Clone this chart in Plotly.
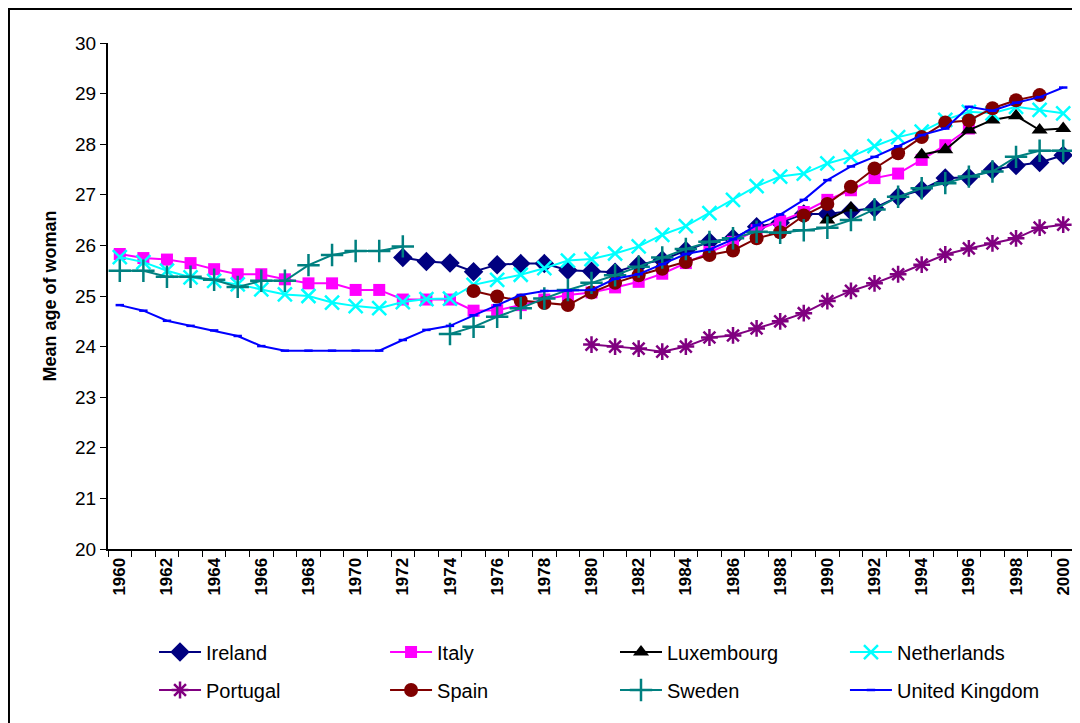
import plotly.graph_objects as go

years = list(range(1960, 2001))

ireland = [None] * 12 + [25.76, 25.68, 25.65, 25.48, 25.62, 25.64, 25.64, 25.51, 25.49, 25.47,
                         25.62, 25.71, 25.9, 26.07, 26.14, 26.37, 26.45, 26.62, 26.62, 26.68,
                         26.74, 26.96, 27.1, 27.33, 27.34, 27.49, 27.58, 27.64, 27.78]
italy = [25.83, 25.75, 25.72, 25.65, 25.53, 25.43, 25.43, 25.33, 25.25, 25.25,
         25.12, 25.12, 24.93, 24.93, 24.93, 24.71, 24.72, 24.82, 24.93, 25.02,
         25.07, 25.17, 25.28, 25.44, 25.65, 25.87, 26.07, 26.3, 26.48, 26.66,
         26.9, 27.09, 27.33, 27.42, 27.69, 27.98, 28.31] + [None] * 4
luxembourg = [None] * 30 + [26.5, 26.74, None, None, 27.79, 27.89, 28.28, 28.48, 28.56, 28.28, 28.31]
netherlands = [25.77, 25.67, 25.5, 25.37, 25.3, 25.23, 25.13, 25.03, 25.0, 24.87,
               24.8, 24.76, 24.88, 24.94, 24.95, 25.22, 25.32, 25.42, 25.55, 25.7,
               25.73, 25.84, 25.98, 26.21, 26.38, 26.64, 26.9, 27.17, 27.36, 27.42,
               27.62, 27.75, 27.96, 28.14, 28.25, 28.48, 28.64, 28.61, 28.74, 28.68, 28.61]
portugal = [None] * 20 + [24.04, 24.0, 23.96, 23.9, 24.0, 24.18, 24.22, 24.36, 24.5, 24.66,
                          24.9, 25.1, 25.25, 25.43, 25.62, 25.82, 25.94, 26.04, 26.14, 26.35, 26.41]
spain = [None] * 15 + [25.1, 24.99, 24.91, 24.86, 24.82, 25.07, 25.26, 25.41, 25.54, 25.67,
                       25.81, 25.9, 26.14, 26.26, 26.59, 26.82, 27.16, 27.52, 27.82, 28.14,
                       28.43, 28.47, 28.71, 28.87, 28.97] + [None]
sweden = [25.5, 25.5, 25.38, 25.38, 25.32, 25.18, 25.3, 25.3, 25.61, 25.81,
          25.89, 25.89, 25.98, None, 24.25, 24.39, 24.59, 24.76, 24.95, 25.12,
          25.26, 25.41, 25.58, 25.76, 25.93, 26.07, 26.14, 26.27, 26.25, 26.3,
          26.35, 26.5, 26.71, 26.96, 27.13, 27.23, 27.36, 27.46, 27.75, 27.87, 27.87]
uk = [24.82, 24.71, 24.51, 24.41, 24.32, 24.21, 24.01, 23.92, 23.92, 23.92,
      23.92, 23.92, 24.13, 24.33, 24.41, 24.62, 24.82, 25.02, 25.1, 25.11,
      25.12, 25.34, 25.43, 25.63, 25.83, 25.92, 26.12, 26.4, 26.61, 26.9,
      27.29, 27.56, 27.75, 27.96, 28.18, 28.31, 28.74, 28.66, 28.82, 28.93, 29.12]

series = [
    ("Ireland", ireland, "#000080", "diamond", 15),
    ("Italy", italy, "#FF00FF", "square", 12),
    ("Luxembourg", luxembourg, "#000000", "triangle-up", 14),
    ("Netherlands", netherlands, "#00FFFF", "x-thin-open", 14),
    ("Portugal", portugal, "#800080", "asterisk-open", 14),
    ("Spain", spain, "#800000", "circle", 14),
    ("Sweden", sweden, "#008080", "cross-thin-open", 16),
    ("United Kingdom", uk, "#0000FF", "line-ew-open", 6),
]

# one small legend per entry so the 4x2 grid sits where the reference has it
leg_x = [0.0476, 0.2865, 0.5243, 0.7621]
leg_y = [-0.2036, -0.2787]

fig = go.Figure()
legends = {}
for i, (name, vals, col, sym, size) in enumerate(series):
    key = "legend" if i == 0 else f"legend{i + 1}"
    fig.add_trace(go.Scatter(
        x=years, y=vals, name=name, mode="lines+markers", showlegend=True,
        line=dict(color=col, width=2),
        marker=dict(symbol=sym, size=size, color=col, line=dict(color=col, width=2.5 if "open" in sym else 0)),
        legend=key,
    ))
    legends[key] = dict(x=leg_x[i % 4], y=leg_y[i // 4], xanchor="left", yanchor="middle",
                        font=dict(size=20), itemwidth=42, bgcolor="rgba(0,0,0,0)")

fig.update_layout(
    width=1072, height=715,
    margin=dict(l=100, r=5, t=35, b=174),
    plot_bgcolor="white", paper_bgcolor="white",
    font=dict(family="Liberation Sans, Arial", color="black"),
    showlegend=True,
    shapes=[dict(type="rect", xref="paper", yref="paper",
                 x0=-0.1024, x1=1.05, y0=-0.4, y1=1.067,
                 line=dict(color="black", width=2))],
    **legends,
)

fig.update_xaxes(
    range=[1959.5, 2000.5], showline=True, linecolor="black", linewidth=2,
    showgrid=False, zeroline=False,
    tickvals=years[::2], ticks="", tickangle=-90,
    tickfont=dict(size=17, weight="bold"),
    minor=dict(tick0=1959.5, dtick=1, ticks="outside", ticklen=6, tickcolor="black", showgrid=False),
)
fig.update_yaxes(
    range=[20, 30], dtick=1, showline=True, linecolor="black", linewidth=2,
    showgrid=False, zeroline=False, ticks="outside", ticklen=6, tickcolor="black",
    tickfont=dict(size=19),
    title=dict(text="Mean age of woman", font=dict(size=18, weight="bold"), standoff=14),
)

fig.write_html("out.html")
